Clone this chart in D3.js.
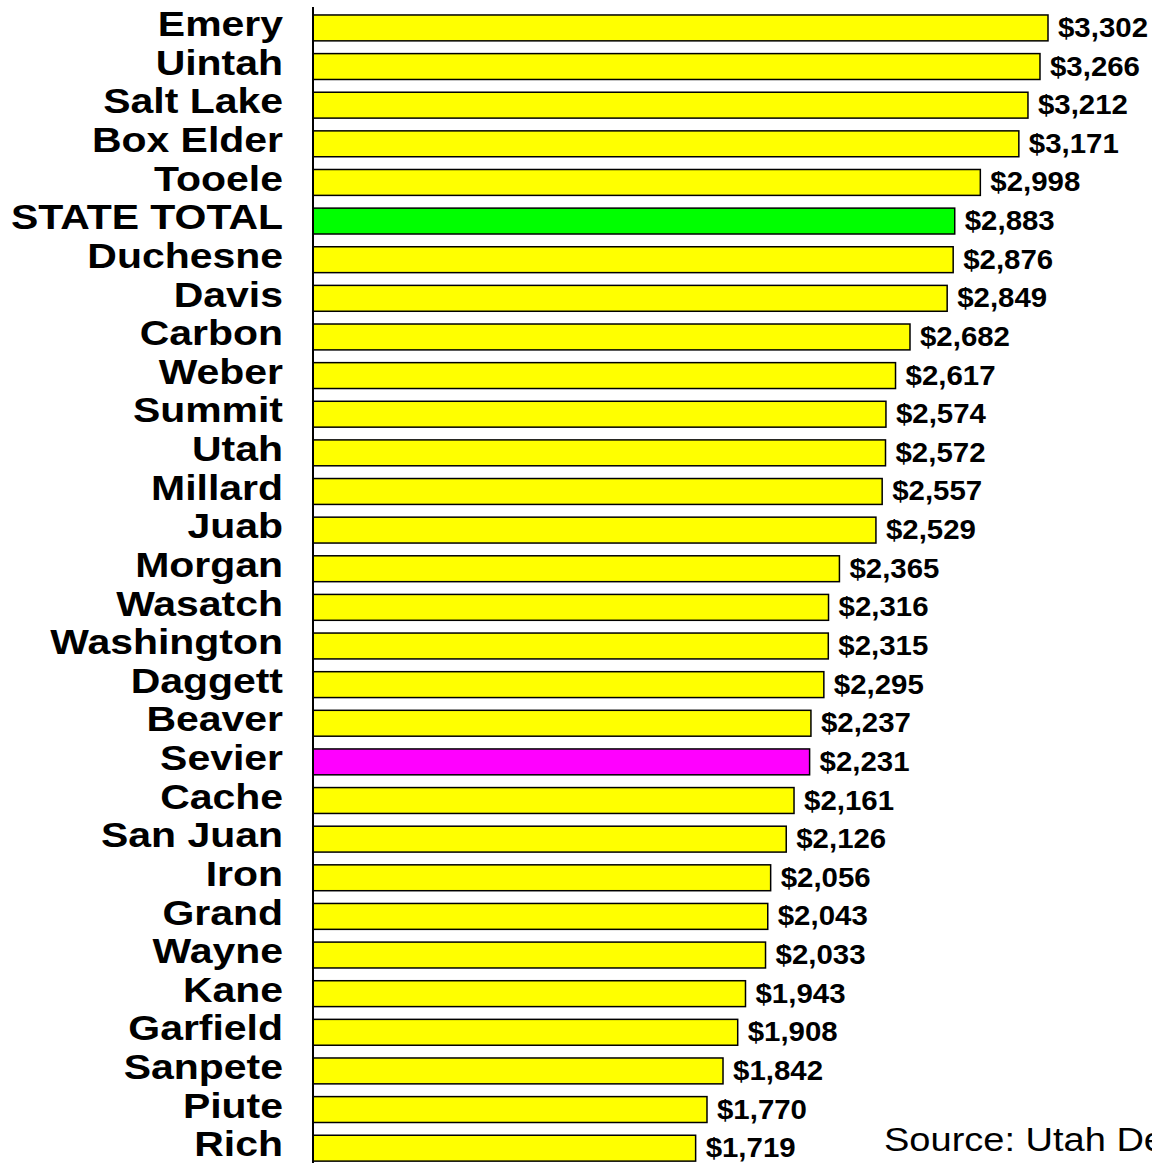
<!DOCTYPE html>
<html><head><meta charset="utf-8">
<script src="https://cdn.jsdelivr.net/npm/d3@7"></script>
<style>html,body{margin:0;padding:0;background:#fff;overflow:hidden}</style>
</head><body>
<svg id="chart" width="1152" height="1163"></svg>
<script>
const counties = ["Emery","Uintah","Salt Lake","Box Elder","Tooele","STATE TOTAL","Duchesne","Davis","Carbon","Weber","Summit","Utah","Millard","Juab","Morgan","Wasatch","Washington","Daggett","Beaver","Sevier","Cache","San Juan","Iron","Grand","Wayne","Kane","Garfield","Sanpete","Piute","Rich"];
const values = [3302,3266,3212,3171,2998,2883,2876,2849,2682,2617,2574,2572,2557,2529,2365,2316,2315,2295,2237,2231,2161,2126,2056,2043,2033,1943,1908,1842,1770,1719];
const highlightState = "STATE TOTAL";
const highlightCounty = "Sevier";
const sourceText = "Source: Utah Department of Workforce Services";

const svg = d3.select("#chart");
const x = d3.scaleLinear().domain([0, 3302]).range([313, 1048]);
const y = d3.scaleBand().domain(counties).range([8.6, 8.6 + 30 * 38.63]).paddingInner(0.33).paddingOuter(0.165);
const fmt = d3.format("$,");

const rows = counties.map((c, i) => ({c, v: values[i]}));

svg.selectAll("rect.bar").data(rows).enter().append("rect")
  .attr("class", "bar")
  .attr("x", x(0))
  .attr("y", d => y(d.c))
  .attr("width", d => x(d.v) - x(0))
  .attr("height", y.bandwidth())
  .attr("fill", d => d.c === highlightState ? "#00FF00" : d.c === highlightCounty ? "#FF00FF" : "#FFFF00")
  .attr("stroke", "#000").attr("stroke-width", 1.5);

// axis line
svg.append("line").attr("x1", 313).attr("x2", 313).attr("y1", 7).attr("y2", 1163)
  .attr("stroke", "#000").attr("stroke-width", 2);

// category labels
svg.selectAll("text.lab").data(rows).enter().append("text")
  .attr("class", "lab")
  .attr("transform", d => `translate(283,${y(d.c) + y.bandwidth() / 2 + 8.2}) scale(1.17,1)`)
  .attr("text-anchor", "end")
  .attr("font-family", "Liberation Sans, Arial, sans-serif")
  .attr("font-weight", "bold").attr("font-size", 35)
  .attr("fill", "#000")
  .text(d => d.c);

// value labels
svg.selectAll("text.val").data(rows).enter().append("text")
  .attr("class", "val")
  .attr("transform", d => `translate(${x(d.v) + 10},${y(d.c) + y.bandwidth() / 2 + 9}) scale(1.09,1)`)
  .attr("font-family", "Liberation Sans, Arial, sans-serif")
  .attr("font-weight", "bold").attr("font-size", 27)
  .attr("fill", "#000")
  .text(d => fmt(d.v));

svg.append("text")
  .attr("transform", "translate(884,1151) scale(1.17,1)")
  .attr("font-family", "Liberation Sans, Arial, sans-serif")
  .attr("font-size", 32.5)
  .attr("fill", "#000")
  .text(sourceText);
</script>
</body></html>
